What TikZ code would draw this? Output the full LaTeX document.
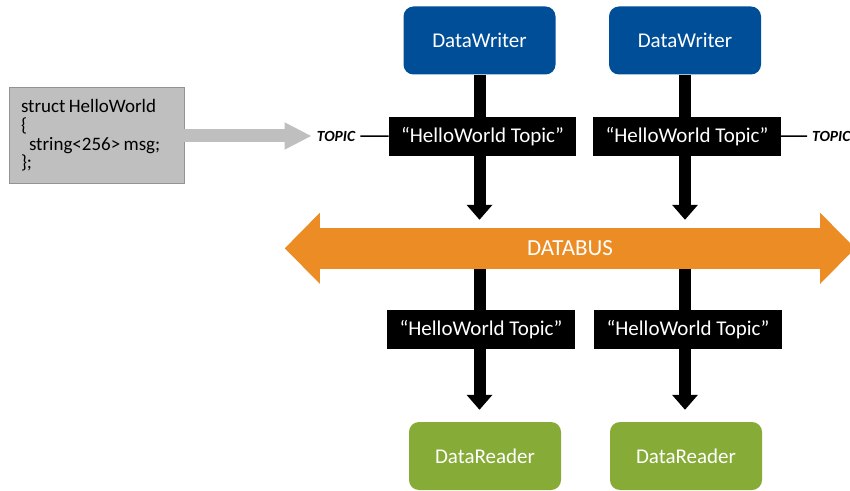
\documentclass[tikz,border=0pt]{standalone}
\usepackage{fontspec}
\setmainfont{Carlito}
\usetikzlibrary{arrows.meta}
\definecolor{dwblue}{RGB}{0,78,152}
\definecolor{drgreen}{RGB}{134,171,55}
\definecolor{busorange}{RGB}{236,140,36}
\definecolor{structgray}{RGB}{191,191,191}
\newcommand{\structfont}{\fontsize{19}{19.3}\selectfont\spaceskip=3.3pt\relax}
\begin{document}
\begin{tikzpicture}[x=1pt,y=1pt,
    writer/.style={fill=dwblue,rounded corners=10pt,minimum width=152pt,minimum height=68pt,text=white,font=\fontsize{21}{25}\selectfont},
    reader/.style={writer,fill=drgreen},
    topicbox/.style={fill=black,text=white,minimum width=187.5pt,minimum height=39pt,inner sep=0pt,font=\fontsize{21}{25}\selectfont},
    topictag/.style={font=\fontsize{15.5}{18}\selectfont\bfseries\itshape,inner sep=5pt},
    flow/.style={line width=12pt,-{Triangle[width=25pt,length=15pt]}}]
    \useasboundingbox (0,0) rectangle (850,490);

    \node (hello) at (96.5,355) [draw=gray!85,fill=structgray,minimum width=175pt,minimum height=96pt,text width=151pt,inner xsep=12pt,align=left]
      {\structfont struct HelloWorld\\\{\\\hspace*{8pt}string<256> msg;\\\};};

    \node (dwL) at (479.5,449.5) [writer] {DataWriter};
    \node (dwR) at (685,449.5) [writer] {DataWriter};
    \node (drL) at (485,34) [reader] {DataReader};
    \node (drR) at (686,34) [reader] {DataReader};

    \node (bus) at (570,241.5) [fill=busorange,minimum width=500pt,minimum height=41pt,inner sep=0pt,text=white,font=\fontsize{23}{27}\selectfont] {DATABUS};
    \fill[busorange] (bus.north west) -- ++(0,15) -- ++(-35,-35.5) -- ++(35,-35.5) -- ++(0,15) -- cycle;
    \fill[busorange] (bus.north east) -- ++(0,15) -- ++(35,-35.5) -- ++(-35,-35.5) -- ++(0,15) -- cycle;

    \draw[flow,shorten >=8pt]
    (dwL.south) -- (dwL.south |- bus.north);
    \draw[flow,shorten >=8pt]
    (dwR.south) -- (dwR.south |- bus.north);
    \draw[flow,shorten >=12pt]
    (bus.south -| dwL.south) -- (drL.north -| dwL.south);
    \draw[flow,shorten >=12pt]
    (bus.south -| dwR.south) -- (drR.north -| dwR.south);

    \node (lblTL) at (482.5,353.5) [topicbox] {“HelloWorld Topic”};
    \node (lblTR) at (687,353.5) [topicbox] {“HelloWorld Topic”};
    \node (lblBL) at (481,160.5) [topicbox] {“HelloWorld Topic”};
    \node (lblBR) at (688,160.5) [topicbox] {“HelloWorld Topic”};

    \node (topicL) at (336,354) [topictag] {TOPIC};
    \node (topicR) at (807,354) [topictag,anchor=west] {TOPIC};

    \draw[line width=13pt,structgray,-{Triangle[width=25pt,length=27pt]}]
    (hello.east |- topicL.west) -- (topicL.west);

    \draw[line width=1.5pt]
    (topicL) -- (lblTL)
    (lblTR) -- (topicR);
  \end{tikzpicture}
\end{document}
